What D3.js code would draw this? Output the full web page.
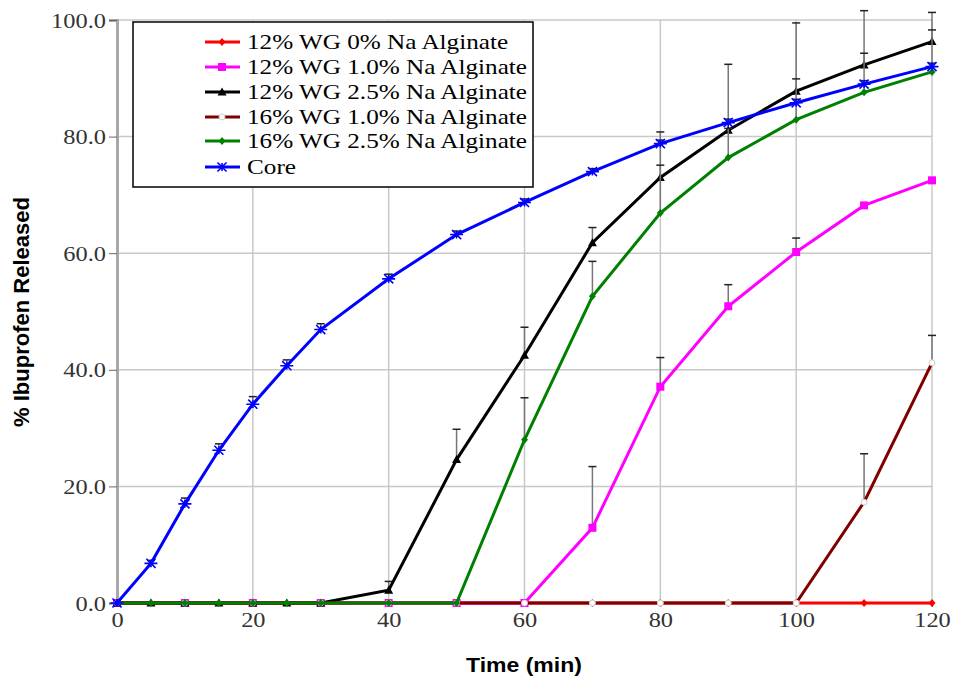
<!DOCTYPE html>
<html><head><meta charset="utf-8">
<script src="https://cdn.jsdelivr.net/npm/d3@7"></script>
<style>body{margin:0;background:#fff}</style>
</head><body>
<svg id="c" width="956" height="679"></svg>
<script>
// ---- data ----
const xTicks = [0, 20, 40, 60, 80, 100, 120];
const yTicks = [0, 20, 40, 60, 80, 100];
const seriesNames = ["12% WG 0% Na Alginate", "12% WG 1.0% Na Alginate", "12% WG 2.5% Na Alginate",
  "16% WG 1.0% Na Alginate", "16% WG 2.5% Na Alginate", "Core"];
const tRed = [0,10,20,30,40,50,60,70,80,90,100,110,120];
const vRed = [0,0,0,0,0,0,0,0,0,0,0,0,0];
const eRed = [0,0,0,0,0,0,0,0,0,0,0,0,0];
const tPink = [0,10,20,30,40,50,60,70,80,90,100,110,120];
const vPink = [0,0,0,0,0,0,0,12.9,37.1,50.9,60.2,68.2,72.5];
const ePink = [0,0,0,0,0,0,0,10.5,5.0,3.7,2.4,0,0];
const tBlack = [0,5,10,15,20,25,30,40,50,60,70,80,90,100,110,120];
const vBlack = [0,0,0,0,0,0,0,2.2,24.6,42.5,61.8,73.0,81.1,87.8,92.3,96.3];
const eBlack = [0,0,0,0,0,0,0,1.5,5.2,4.8,2.6,7.8,11.3,11.7,9.3,5.0];
const tDark = [0,10,20,30,40,50,60,70,80,90,100,110,120];
const vDark = [0,0,0,0,0,0,0,0,0,0,0,17.3,41.2];
const eDark = [0,0,0,0,0,0,0,0,0,0,0,8.3,4.7];
const tGreen = [0,5,10,15,20,25,30,40,50,60,70,80,90,100,110,120];
const vGreen = [0,0,0,0,0,0,0,0,0,28.0,52.6,66.9,76.4,82.9,87.6,91.1];
const eGreen = [0,0,0,0,0,0,0,0,0,7.2,6.0,8.2,5.0,7.0,6.7,7.2];
const tCore = [0,5,10,15,20,25,30,40,50,60,70,80,90,100,110,120];
const vCore = [0,6.8,17.0,26.2,34.1,40.7,46.9,55.6,63.2,68.7,74.0,78.8,82.4,85.8,89.0,92.0];
const eCore = [0,0.5,1.0,1.1,1.3,1.0,1.0,0.8,0.6,0.6,0.5,0.6,0.6,0.6,0.6,0.6];

const colors = ["#ff0000", "#ff00ff", "#000000", "#800000", "#008000", "#0000ff"];
const markers = ["diamond", "square", "triangle", "open", "diamond", "asterisk"];
const seriesT = [tRed, tPink, tBlack, tDark, tGreen, tCore];
const seriesV = [vRed, vPink, vBlack, vDark, vGreen, vCore];
const seriesE = [eRed, ePink, eBlack, eDark, eGreen, eCore];

const SERIF = "Liberation Serif";
const SANS = "Liberation Sans";

// ---- chart ----
const svg = d3.select("#c");
const x = d3.scaleLinear().domain([0, 120]).range([117, 932]);
const y = d3.scaleLinear().domain([0, 100]).range([603, 20]);

function stretch(sel, k) {
  sel.each(function () {
    const L = this.getComputedTextLength();
    d3.select(this).attr("textLength", L * k).attr("lengthAdjust", "spacingAndGlyphs");
  });
}

// gridlines
svg.append("g").selectAll("line").data(xTicks.filter(d => d > 0)).join("line")
  .attr("x1", d => x(d)).attr("x2", d => x(d)).attr("y1", y(0)).attr("y2", y(100))
  .attr("stroke", "#c8c8c8").attr("stroke-width", 1.5);
svg.append("g").selectAll("line").data(yTicks.filter(d => d > 0)).join("line")
  .attr("x1", x(0)).attr("x2", x(120)).attr("y1", d => y(d)).attr("y2", d => y(d))
  .attr("stroke", "#c8c8c8").attr("stroke-width", 1.5);

// axes
const yAxis = svg.append("g").attr("transform", `translate(${x(0)},0)`)
  .call(d3.axisLeft(y).tickValues(yTicks).tickFormat(d3.format(".1f")).tickSize(8).tickPadding(3));
yAxis.attr("font-family", SERIF).attr("font-size", 20);
yAxis.select(".domain").attr("stroke", "#a8a8a8").attr("stroke-width", 3);
yAxis.selectAll(".tick line").attr("stroke", "#666");
yAxis.selectAll("text").attr("font-family", SERIF).attr("font-size", 20).attr("fill", "#333").attr("dy", "0.35em");
stretch(yAxis.selectAll("text"), 1.22);

const xAxis = svg.append("g").attr("transform", `translate(0,${y(0)})`)
  .call(d3.axisBottom(x).tickValues(xTicks).tickSize(4).tickPadding(6));
xAxis.attr("font-family", SERIF).attr("font-size", 20);
xAxis.select(".domain").attr("stroke", "#c8c8c8").attr("stroke-width", 1.5);
xAxis.selectAll(".tick line").attr("stroke", "#666");
xAxis.selectAll("text").attr("font-family", SERIF).attr("font-size", 20).attr("fill", "#333");
stretch(xAxis.selectAll("text"), 1.22);

// titles
svg.append("text").attr("transform", "translate(29,312) rotate(-90)")
  .attr("text-anchor", "middle").attr("font-family", SANS).attr("font-weight", "bold")
  .attr("font-size", 22).attr("fill", "#000").text("% Ibuprofen Released");
const xt = svg.append("text").attr("x", 524).attr("y", 672)
  .attr("text-anchor", "middle").attr("font-family", SANS).attr("font-weight", "bold")
  .attr("font-size", 20).attr("fill", "#000").text("Time (min)");
stretch(xt, 1.15);

// marker drawing
function drawMarker(g, type, color, cx, cy) {
  if (type === "diamond") {
    g.append("path").attr("d", `M${cx},${cy-4}L${cx+3.5},${cy}L${cx},${cy+4}L${cx-3.5},${cy}Z`).attr("fill", color);
  } else if (type === "square") {
    g.append("rect").attr("x", cx - 4).attr("y", cy - 4).attr("width", 8).attr("height", 8).attr("fill", color);
  } else if (type === "triangle") {
    g.append("path").attr("d", `M${cx},${cy-4.5}L${cx+4.5},${cy+3.5}L${cx-4.5},${cy+3.5}Z`).attr("fill", color);
  } else if (type === "open") {
    g.append("circle").attr("cx", cx).attr("cy", cy).attr("r", 3).attr("fill", "#fff").attr("stroke", "#ccc").attr("stroke-width", 1);
  } else if (type === "asterisk") {
    const r = 6.5;
    const p = d3.path();
    p.moveTo(cx - r, cy); p.lineTo(cx + r, cy);
    p.moveTo(cx - r * 0.7, cy - r * 0.7); p.lineTo(cx + r * 0.7, cy + r * 0.7);
    p.moveTo(cx - r * 0.7, cy + r * 0.7); p.lineTo(cx + r * 0.7, cy - r * 0.7);
    p.moveTo(cx, cy - r * 0.6); p.lineTo(cx, cy + r * 0.6);
    g.append("path").attr("d", p.toString()).attr("stroke", color).attr("stroke-width", 1.6).attr("fill", "none");
  }
}

const line = d3.line().x(d => x(d[0])).y(d => y(d[1]));
const plot = svg.append("g");

seriesNames.forEach((name, i) => {
  const pts = seriesT[i].map((t, j) => [t, seriesV[i][j], seriesE[i][j]]);
  const g = plot.append("g");
  pts.filter(p => p[2] > 0).forEach(p => {
    g.append("line").attr("x1", x(p[0])).attr("x2", x(p[0])).attr("y1", y(p[1])).attr("y2", y(p[1] + p[2]))
      .attr("stroke", "#777").attr("stroke-width", 1.5);
    g.append("line").attr("x1", x(p[0]) - 4).attr("x2", x(p[0]) + 4).attr("y1", y(p[1] + p[2])).attr("y2", y(p[1] + p[2]))
      .attr("stroke", "#222").attr("stroke-width", 1.5);
  });
  g.append("path").datum(pts).attr("d", line).attr("fill", "none").attr("stroke", colors[i]).attr("stroke-width", 3);
  pts.forEach(p => drawMarker(g, markers[i], colors[i], x(p[0]), y(p[1])));
});

// legend
const lg = svg.append("g");
lg.append("rect").attr("x", 133).attr("y", 22).attr("width", 400).attr("height", 165)
  .attr("fill", "#fff").attr("stroke", "#000").attr("stroke-width", 1.5);
const rowY = [42, 67, 92, 117, 141, 167];
const texts = [];
seriesNames.forEach((name, i) => {
  const ly = rowY[i];
  lg.append("line").attr("x1", 205).attr("x2", 240).attr("y1", ly).attr("y2", ly)
    .attr("stroke", colors[i]).attr("stroke-width", 3);
  drawMarker(lg, markers[i], colors[i], 222, ly);
  texts.push(lg.append("text").attr("x", 247).attr("y", ly + 7).attr("font-family", SERIF)
    .attr("font-size", 22).attr("fill", "#000").text(name));
});
const widest = d3.max(texts, t => t.node().getComputedTextLength());
const k = 280 / widest;
texts.forEach(t => stretch(t, k));
</script>
</body></html>
